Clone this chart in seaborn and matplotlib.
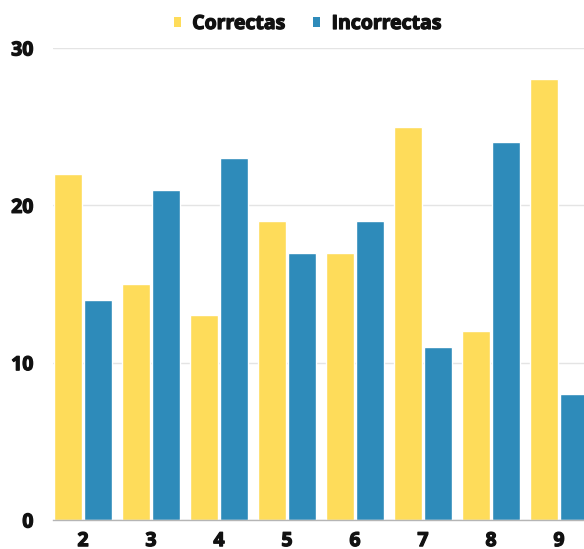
import matplotlib
matplotlib.use("Agg")
import matplotlib.pyplot as plt
from matplotlib import font_manager as fm
import matplotlib.patheffects as pe
import seaborn as sns
import pandas as pd
from matplotlib.patches import Patch

categories = ["2", "3", "4", "5", "6", "7", "8", "9"]
correctas = [22, 15, 13, 19, 17, 25, 12, 28]
incorrectas = [14, 21, 23, 17, 19, 11, 24, 8]
series_names = ["Correctas", "Incorrectas"]
yticks = [0, 10, 20, 30]

colors = {"Correctas": "#FEDC5A", "Incorrectas": "#2E8BBA"}

df = pd.DataFrame({
    "cat": categories * 2,
    "val": correctas + incorrectas,
    "serie": [series_names[0]] * len(categories) + [series_names[1]] * len(categories),
})

sns.set_theme(style="white")
plt.rcParams["font.family"] = ["Open Sans", "DejaVu Sans"]

fs = 14
fp = fm.FontProperties(family="Open Sans", weight="bold", size=fs)
heavy = [pe.withStroke(linewidth=0.9, foreground="#111111")]

fig = plt.figure(figsize=(5.84, 5.49), dpi=100)
ax = fig.add_axes([53 / 584, 29 / 549, 1 - 53 / 584, (520 - 48) / 549])

sns.barplot(data=df, x="cat", y="val", hue="serie", order=categories,
            hue_order=series_names, palette=colors, width=0.88, gap=0.07,
            ax=ax, legend=False, saturation=1)

ax.set_xlim(-0.441, 7.368)
ax.set_ylim(0, 30)
ax.set_yticks(yticks)
ax.set_yticklabels([str(t) for t in yticks], fontproperties=fp, color="#111111")
ax.set_xticks(range(len(categories)))
ax.set_xticklabels(categories, fontproperties=fp, color="#111111")
for t in ax.get_xticklabels() + ax.get_yticklabels():
    t.set_path_effects(heavy)
ax.set_xlabel("")
ax.set_ylabel("")
ax.tick_params(axis="both", length=0)
ax.tick_params(axis="y", pad=14)
ax.tick_params(axis="x", pad=8)
ax.yaxis.grid(True, color="#e4e4e4", linewidth=1)
ax.set_axisbelow(True)
for s in ["top", "right", "left"]:
    ax.spines[s].set_visible(False)
ax.spines["bottom"].set_color("#b5b5b5")
ax.spines["bottom"].set_linewidth(1)

handles = [Patch(facecolor=colors[n], edgecolor="none") for n in series_names]
leg = fig.legend(handles, series_names, loc="center", bbox_to_anchor=(0.527, 1 - 24 / 549),
                 ncol=2, frameon=False, handlelength=0.36, handleheight=0.36,
                 handletextpad=0.6, columnspacing=1.4, prop=fp)
for t in leg.get_texts():
    t.set_color("#111111")
    t.set_path_effects(heavy)

fig.savefig("out.png", dpi=100)
